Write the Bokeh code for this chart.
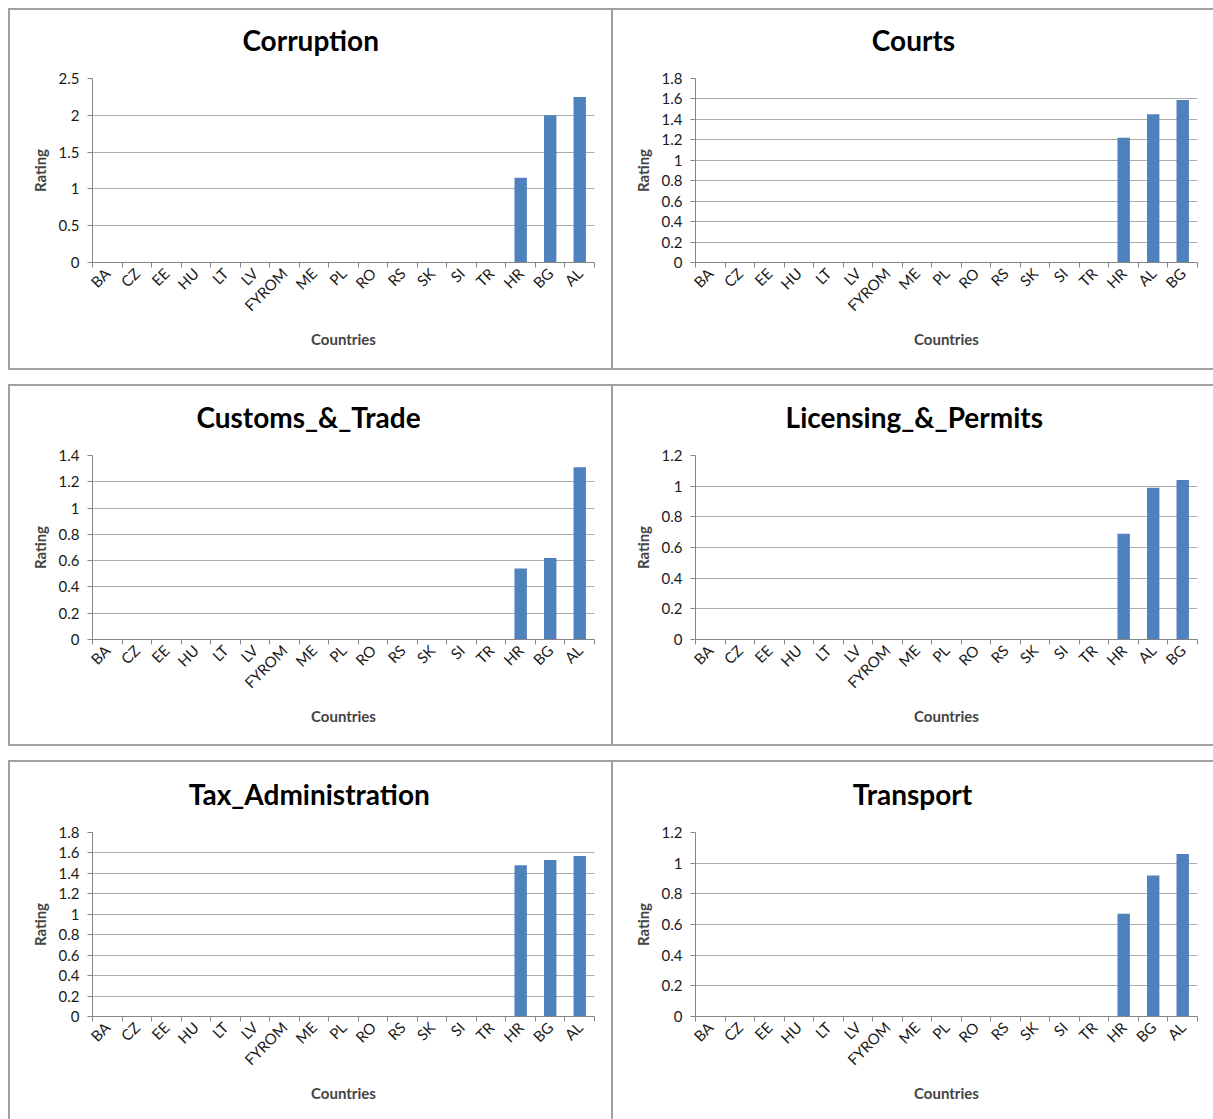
import math
from bokeh.plotting import figure
from bokeh.layouts import column, row
from bokeh.models import Range1d, FixedTicker, CustomJSTickFormatter, Spacer, LinearAxis
from bokeh.embed import file_html
from bokeh.resources import INLINE

# ---------------- data ----------------
titles = ["Corruption", "Courts", "Customs_&_Trade",
          "Licensing_&_Permits", "Tax_Administration", "Transport"]

corruption_countries = ["BA", "CZ", "EE", "HU", "LT", "LV", "FYROM", "ME", "PL",
                        "RO", "RS", "SK", "SI", "TR", "HR", "BG", "AL"]
corruption_values = [0, 0, 0, 0, 0, 0, 0, 0, 0, 0, 0, 0, 0, 0, 1.15, 2.00, 2.25]
corruption_ticks = [0, 0.5, 1, 1.5, 2, 2.5]

courts_countries = ["BA", "CZ", "EE", "HU", "LT", "LV", "FYROM", "ME", "PL",
                    "RO", "RS", "SK", "SI", "TR", "HR", "AL", "BG"]
courts_values = [0, 0, 0, 0, 0, 0, 0, 0, 0, 0, 0, 0, 0, 0, 1.22, 1.45, 1.59]
courts_ticks = [0, 0.2, 0.4, 0.6, 0.8, 1, 1.2, 1.4, 1.6, 1.8]

customs_countries = ["BA", "CZ", "EE", "HU", "LT", "LV", "FYROM", "ME", "PL",
                     "RO", "RS", "SK", "SI", "TR", "HR", "BG", "AL"]
customs_values = [0, 0, 0, 0, 0, 0, 0, 0, 0, 0, 0, 0, 0, 0, 0.54, 0.62, 1.31]
customs_ticks = [0, 0.2, 0.4, 0.6, 0.8, 1, 1.2, 1.4]

licensing_countries = ["BA", "CZ", "EE", "HU", "LT", "LV", "FYROM", "ME", "PL",
                       "RO", "RS", "SK", "SI", "TR", "HR", "AL", "BG"]
licensing_values = [0, 0, 0, 0, 0, 0, 0, 0, 0, 0, 0, 0, 0, 0, 0.69, 0.99, 1.04]
licensing_ticks = [0, 0.2, 0.4, 0.6, 0.8, 1, 1.2]

tax_countries = ["BA", "CZ", "EE", "HU", "LT", "LV", "FYROM", "ME", "PL",
                 "RO", "RS", "SK", "SI", "TR", "HR", "BG", "AL"]
tax_values = [0, 0, 0, 0, 0, 0, 0, 0, 0, 0, 0, 0, 0, 0, 1.48, 1.53, 1.57]
tax_ticks = [0, 0.2, 0.4, 0.6, 0.8, 1, 1.2, 1.4, 1.6, 1.8]

transport_countries = ["BA", "CZ", "EE", "HU", "LT", "LV", "FYROM", "ME", "PL",
                       "RO", "RS", "SK", "SI", "TR", "HR", "BG", "AL"]
transport_values = [0, 0, 0, 0, 0, 0, 0, 0, 0, 0, 0, 0, 0, 0, 0.67, 0.92, 1.06]
transport_ticks = [0, 0.2, 0.4, 0.6, 0.8, 1, 1.2]

x_axis_label = "Countries"
y_axis_label = "Rating"

# ---------------- style ----------------
FONT = "Lato"
BAR = "#4f81bd"
AXIS = "#868686"
GRID = "#ababab"
BORDER = "#a0a0a0"
TITLE_PX = 28

# approximate Lato Bold advance widths (em) used only to centre the titles
_W = {"A": .69, "C": .68, "L": .49, "P": .60, "T": .59, "_": .50, "&": .70,
      "a": .51, "c": .45, "d": .565, "e": .53, "g": .505, "i": .25, "m": .85,
      "n": .565, "o": .56, "p": .565, "r": .38, "s": .43, "t": .36, "u": .565,
      "x": .51}


def text_width(s, px):
    return sum(_W.get(ch, .55) for ch in s) * px


def make_panel(title, countries, values, yticks, w, h, left, right, top, bottom,
               css, content_left):
    n = len(countries)
    xs = list(range(n))
    centers = list(range(n))
    bounds = [i - 0.5 for i in range(n + 1)]
    p = figure(width=w, height=h, output_backend="svg", toolbar_location=None,
               x_range=Range1d(-0.5, n - 0.5), y_range=Range1d(yticks[0], yticks[-1]),
               min_border_left=left, min_border_right=right,
               min_border_top=top, min_border_bottom=bottom)
    p.styles = css
    p.outline_line_color = None
    p.background_fill_color = "white"
    p.border_fill_color = "white"

    p.vbar(x=xs, top=values, width=0.42, bottom=0, fill_color=BAR, line_color=None)

    # blank gap between the title and the plot area: an invisible axis above
    gap = LinearAxis(ticker=FixedTicker(ticks=[centers[0]]),
                     formatter=CustomJSTickFormatter(code="return '';"),
                     axis_line_color=None,
                     major_tick_line_color=None, minor_tick_line_color=None,
                     major_tick_in=0, major_tick_out=21,
                     minor_tick_in=0, minor_tick_out=0,
                     major_label_standoff=0, major_label_text_font_size="0px")
    p.add_layout(gap, "above")

    # title, centred on the whole panel
    p.title.text = title
    p.title.align = "left"
    p.title.text_font = FONT
    p.title.text_font_style = "bold"
    p.title.text_font_size = f"{TITLE_PX}px"
    p.title.text_color = "black"
    p.title.vertical_align = "middle"
    p.title.standoff = 0
    p.title.offset = (content_left - left) - text_width(title, TITLE_PX) / 2

    # x axis
    xa = p.below[0]
    xa.ticker = FixedTicker(ticks=centers, minor_ticks=bounds)
    xa.formatter = CustomJSTickFormatter(args=dict(names=countries),
                                         code="return names[Math.round(tick)] || '';")
    xa.major_label_orientation = math.pi / 4
    xa.major_tick_line_color = None
    xa.major_tick_in = 0
    xa.major_tick_out = 0
    xa.minor_tick_in = 0
    xa.minor_tick_out = 5
    xa.minor_tick_line_color = AXIS
    xa.axis_line_color = AXIS
    xa.major_label_text_font = FONT
    xa.major_label_text_font_size = "15px"
    xa.major_label_text_color = "#1a1a1a"
    xa.major_label_standoff = 3
    xa.axis_label = x_axis_label
    xa.axis_label_text_font = FONT
    xa.axis_label_text_font_style = "bold"
    xa.axis_label_text_font_size = "15px"
    xa.axis_label_standoff = 6

    # y axis
    ya = p.left[0]
    ya.ticker = FixedTicker(ticks=yticks)
    ya.formatter = CustomJSTickFormatter(code="return String(parseFloat(tick.toFixed(2)));")
    ya.major_tick_in = 0
    ya.major_tick_out = 5
    ya.major_tick_line_color = AXIS
    ya.minor_tick_line_color = None
    ya.axis_line_color = AXIS
    ya.major_label_text_font = FONT
    ya.major_label_text_font_size = "15px"
    ya.major_label_text_color = "#1a1a1a"
    ya.major_label_standoff = 8
    ya.axis_label = y_axis_label
    ya.axis_label_text_font = FONT
    ya.axis_label_text_font_style = "bold"
    ya.axis_label_text_font_size = "15px"
    ya.axis_label_standoff = 7

    p.xgrid.grid_line_color = None
    p.ygrid.grid_line_color = GRID
    p.ygrid.grid_line_width = 1
    p.ygrid.ticker = FixedTicker(ticks=yticks)
    return p


B = f"2px solid {BORDER}"
css_left = {"border": B}
css_right = {"border-top": B, "border-bottom": B}
css_left_last = {"border-top": B, "border-left": B, "border-right": B}
css_right_last = {"border-top": B}

LW, RW = 605, 600
H1, H3 = 362, 359

p1 = make_panel(titles[0], corruption_countries, corruption_values, corruption_ticks,
                LW, H1, 82, 21, 68, 110, css_left, 300)
p2 = make_panel(titles[1], courts_countries, courts_values, courts_ticks,
                RW, H1, 82, 16, 68, 110, css_right, 300)
p3 = make_panel(titles[2], customs_countries, customs_values, customs_ticks,
                LW, H1, 82, 21, 69, 109, css_left, 300)
p4 = make_panel(titles[3], licensing_countries, licensing_values, licensing_ticks,
                RW, H1, 82, 16, 69, 109, css_right, 300)
p5 = make_panel(titles[4], tax_countries, tax_values, tax_ticks,
                LW, H3, 82, 21, 70, 105, css_left_last, 300)
p6 = make_panel(titles[5], transport_countries, transport_values, transport_ticks,
                RW, H3, 82, 16, 70, 105, css_right_last, 300)

grid = column(row(p1, p2), row(p3, p4), row(p5, p6), spacing=14)
layout = column(Spacer(height=8), row(Spacer(width=8), grid))

open("out.html", "w").write(file_html(layout, INLINE))
